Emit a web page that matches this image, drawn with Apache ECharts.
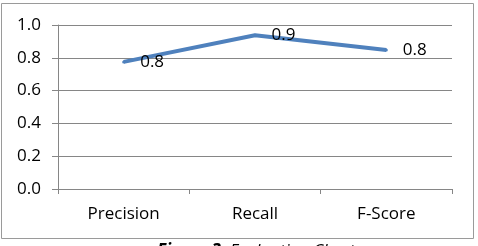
<!DOCTYPE html>
<html>
<head>
<meta charset="utf-8">
<script src="https://cdn.jsdelivr.net/npm/echarts@6/dist/echarts.min.js"></script>
<style>
  html, body { margin: 0; padding: 0; background: #fff; }
  #main { width: 478px; height: 246px; }
</style>
</head>
<body>
<div id="main"></div>
<script>
// data
const categories = ['Precision', 'Recall', 'F-Score'];
const scores = [0.775, 0.938, 0.848];
const yTicks = [0, 0.2, 0.4, 0.6, 0.8, 1.0];

const chart = echarts.init(document.getElementById('main'));
const font = '"Open Sans", "Noto Sans", sans-serif';

chart.setOption({
  animation: false,
  backgroundColor: '#fff',
  grid: { left: 58, right: 26, top: 25, bottom: 57 },
  xAxis: {
    type: 'category',
    data: categories,
    boundaryGap: true,
    axisLine: { lineStyle: { color: '#868686', width: 1 } },
    axisTick: { show: true, length: 5, lineStyle: { color: '#868686' } },
    axisLabel: { color: '#000', fontSize: 17, fontFamily: font, margin: 17 }
  },
  yAxis: {
    type: 'value',
    min: yTicks[0],
    max: yTicks[yTicks.length - 1],
    interval: 0.2,
    axisLine: { show: true, lineStyle: { color: '#868686', width: 1 } },
    axisTick: { show: true, length: 6, lineStyle: { color: '#868686' } },
    splitLine: { lineStyle: { color: '#868686', width: 1 } },
    axisLabel: {
      color: '#000', fontSize: 17, fontFamily: font, margin: 17,
      formatter: v => v.toFixed(1)
    }
  },
  series: [{
    type: 'line',
    data: scores,
    symbol: 'circle',
    symbolSize: 3,
    itemStyle: { color: '#4F81BD' },
    lineStyle: { color: '#4F81BD', width: 4 },
    label: {
      show: true,
      position: 'right',
      distance: 15,
      color: '#000',
      fontSize: 17,
      fontFamily: font,
      formatter: p => p.value.toFixed(1)
    }
  }],
  graphic: [
    {
      type: 'rect',
      shape: { x: 1.5, y: 3.5, width: 472, height: 235 },
      style: { fill: 'none', stroke: '#9a9a9a', lineWidth: 1 },
      z: -1
    },
    {
      type: 'text',
      x: 256, y: 243,
      style: {
        text: '{b|Figure 3}{i|: Evaluation Chart}',
        align: 'center',
        verticalAlign: 'top',
        rich: {
          b: { fontSize: 17, fontStyle: 'italic', fontWeight: 'bold', fontFamily: font, fill: '#000' },
          i: { fontSize: 17, fontStyle: 'italic', fontFamily: font, fill: '#000' }
        }
      }
    }
  ]
});
</script>
</body>
</html>
